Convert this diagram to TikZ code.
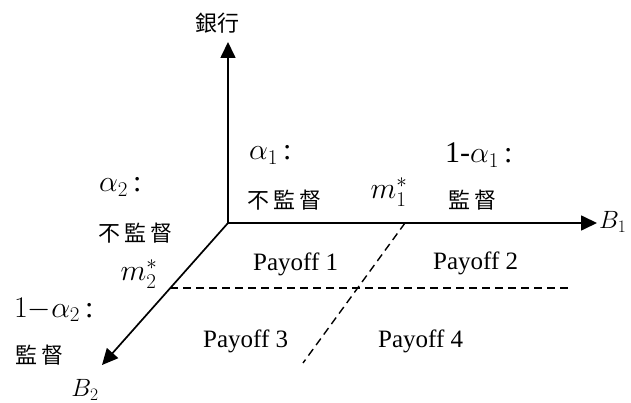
\RequirePackage{fix-cm}
\documentclass[tikz,border=0pt]{standalone}
\usepackage{fontspec}
\setmainfont{Liberation Serif}
\newfontfamily\cjk{Noto Sans CJK TC}
\usetikzlibrary{arrows.meta, positioning}
\newcommand{\zgap}{\hspace{4pt}}

\begin{document}
\begin{tikzpicture}[x=1pt, y=-1pt, axis/.style={line width=1.7pt, -{Triangle[length=16pt, width=15pt]}}, split/.style={line width=1.4pt, dash pattern=on 8pt off 5pt}, lbl/.style={font=\fontsize{25}{30}\selectfont, inner sep=0pt}, greek/.style={font=\fontsize{30}{34}\selectfont, inner sep=0pt}, zh/.style={font=\fontsize{22}{26}\selectfont\cjk, inner sep=0pt}]
\useasboundingbox (0,0) rectangle (631,403);
\coordinate (o) at (228,223);
\coordinate (top) at (228,42);
\coordinate (b1end) at (597,223);
\coordinate (b2end) at (102,365);
\coordinate (m1) at (405,223);
\coordinate (low) at (303,363);
\coordinate (m2) at (170,288);
\coordinate (far) at (568,288);
% axes
\draw[axis] (o) -- (top);
\draw[axis] (o) -- (b1end);
\draw[axis] (o) -- (b2end);
% thresholds
\draw[split] (m1) -- (low);
\draw[split] (m2) -- (far);
% axis labels
\node[zh] (bank) at (217,23) {銀行};
\node[lbl, anchor=west] (b1) at (599,222) {$B_1$};
\node[lbl] (b2) at (85,390) {$B_2$};
% bank 1
\node[greek, anchor=west] (a1) at (249,155) {$\alpha_1$\,:};
\node[zh, anchor=west] (nomon1) at (247,200) {不\zgap 監\zgap 督};
\node[greek] (ms1) at (389,192) {$m_1^{*}$};
\node[greek, anchor=west] (na1) at (445,155) {1-$\alpha_1$\,:};
\node[zh, anchor=west] (mon1) at (448,200) {監\zgap 督};
% bank 2
\node[greek, anchor=west] (a2) at (99,187) {$\alpha_2$\,:};
\node[zh, anchor=west] (nomon2) at (98,233) {不\zgap 監\zgap 督};
\node[greek] (ms2) at (139,274) {$m_2^{*}$};
\node[greek, anchor=west] (na2) at (14,310) {$1{-}\alpha_2$\,:};
\node[zh, anchor=west] (mon2) at (15,355) {監\zgap 督};
% payoffs
\node[lbl, anchor=base west] (p1) at (253,270) {Payoff 1};
\node[lbl, anchor=base west] (p2) at (433,269) {Payoff 2};
\node[lbl, anchor=base west] (p3) at (203,347) {Payoff 3};
\node[lbl, anchor=base west] (p4) at (378,347) {Payoff 4};
\end{tikzpicture}
\end{document}
